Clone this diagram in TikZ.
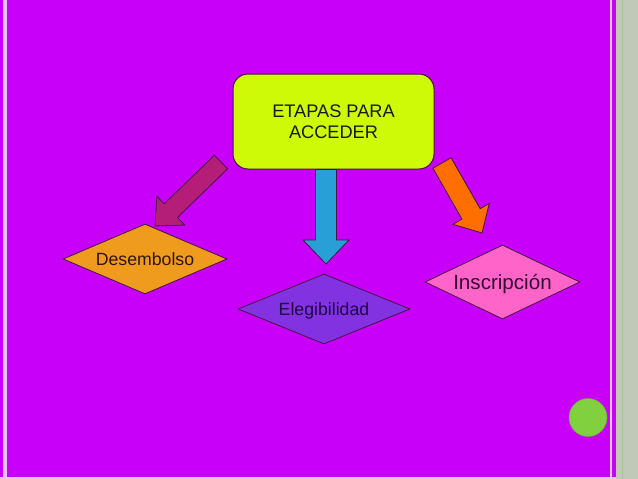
\documentclass[tikz,border=0pt]{standalone}
\usepackage{fontspec}
\setmainfont{Liberation Sans}
\usetikzlibrary{calc,shapes.geometric}
\definecolor{slidebg}{RGB}{200,0,250}
\definecolor{stripe}{RGB}{226,200,236}
\definecolor{sidegray}{RGB}{192,200,184}
\definecolor{sidegreen}{RGB}{160,200,140}
\definecolor{boxlime}{RGB}{206,250,8}
\definecolor{arrowblue}{RGB}{40,160,215}
\definecolor{arrowplum}{RGB}{180,30,120}
\definecolor{arroworange}{RGB}{255,110,0}
\definecolor{desorange}{RGB}{238,155,30}
\definecolor{elepurple}{RGB}{130,50,225}
\definecolor{inspink}{RGB}{255,100,200}
\definecolor{dotgreen}{RGB}{128,208,64}
\definecolor{edgedark}{RGB}{70,20,70}
\newcommand{\blockarrow}[6]{%
  \coordinate (hb) at ($(#2)!#5!(#1)$);
  \draw[arrowline,fill=#6] ($(#1)!#3!90:(#2)$) -- ($(hb)!#3!-90:(#1)$) -- ($(hb)!#4!-90:(#1)$)
    -- (#2) -- ($(hb)!#4!90:(#1)$) -- ($(hb)!#3!90:(#1)$) -- ($(#1)!#3!-90:(#2)$) -- cycle;}

\begin{document}
\begin{tikzpicture}[x=1pt,y=-1pt,
    stagebox/.style={draw=edgedark,line width=1pt,fill=boxlime,rounded corners=15pt,
      minimum width=201pt,minimum height=95pt,align=center,
      font=\fontsize{18.2}{21}\selectfont,text=black!90},
    stagediam/.style={diamond,draw=edgedark,line width=0.8pt,inner sep=0pt,
      shape aspect=2.3,text depth=0pt,font=\fontsize{17.7}{20}\selectfont},
    arrowline/.style={draw=edgedark,line width=0.8pt,line join=miter}]
\useasboundingbox (0,0) rectangle (638,479);
\fill[slidebg] (0,0) rectangle (638,479);
\fill[stripe] (3,0) rectangle (7.3,479);
\fill[stripe!80!pink] (610,0) rectangle (612.4,479);
\fill[sidegray] (616,0) rectangle (638,479);
\fill[sidegreen] (621.7,0) rectangle (623.3,479);
\fill[stripe] (0,477) rectangle (616,479);

\node[stagebox] (etapas) at (333.5,121.5) {ETAPAS PARA\\ACCEDER};
\node[stagediam,fill=desorange,text={rgb,255:red,50;green,20;blue,10},
      minimum width=164pt,minimum height=70pt] (desembolso) at (145,259) {Desembolso};
\node[stagediam,fill=elepurple,text={rgb,255:red,30;green,5;blue,70},
      minimum width=172pt,minimum height=70pt] (elegibilidad) at (324,309) {Elegibilidad};
\node[stagediam,fill=inspink,text={rgb,255:red,50;green,10;blue,50},
      font=\fontsize{20.6}{24}\selectfont,shape aspect=2.1,
      minimum width=155pt,minimum height=74pt] (inscripcion) at (502.5,282) {Inscripción};

\coordinate (plumTail) at (221,162);
\coordinate (plumTip) at (155,226);
\coordinate (blueTail) at ($(etapas.south)+(-7.5,0)$);
\coordinate (blueTip) at (326,264);
\coordinate (orangeTail) at (442,163);
\coordinate (orangeTip) at (482,233);
\blockarrow{plumTail}{plumTip}{9.5pt}{20pt}{22pt}{arrowplum}
\blockarrow{blueTail}{blueTip}{10.5pt}{23pt}{24pt}{arrowblue}
\blockarrow{orangeTail}{orangeTip}{10.5pt}{21pt}{22pt}{arroworange}

\node[circle,fill=dotgreen,draw=dotgreen!85!black,line width=0.5pt,
      minimum size=38pt,inner sep=0pt] (dot) at (588,417.5) {};
\end{tikzpicture}
\end{document}
